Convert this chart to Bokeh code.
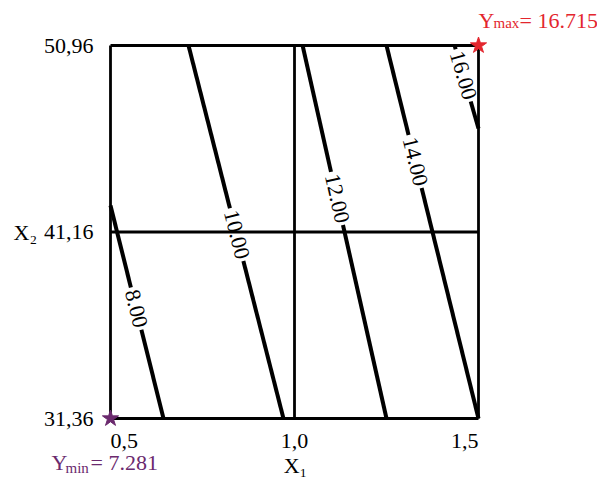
import math
from bokeh.plotting import figure
from bokeh.models import ColumnDataSource
from bokeh.core.properties import value
from bokeh.embed import file_html
from bokeh.resources import INLINE

# ---------------- data ----------------
x_ticks = [0.5, 1.0, 1.5]
x_tick_labels = ["0,5", "1,0", "1,5"]
y_ticks = [31.36, 41.16, 50.96]
y_tick_labels = ["31,36", "41,16", "50,96"]
x_axis_label = "X\u2081"
y_axis_label = "X\u2082"

level_labels = ["8.00", "10.00", "12.00", "14.00", "16.00"]
c_x0 = [0.500, 0.712, 1.022, 1.250, 1.435]
c_y0 = [42.55, 50.96, 50.96, 50.96, 50.96]
c_x1 = [0.644, 0.970, 1.250, 1.500, 1.500]
c_y1 = [31.36, 31.36, 31.36, 31.36, 46.60]
label_frac = [0.484, 0.507, 0.410, 0.311, 0.360]

max_x, max_y, max_val = [1.5], [50.96], "16.715"
min_x, min_y, min_val = [0.5], [31.36], "7.281"

# ---------------- layout ----------------
W, H = 597, 479
BOX_L, BOX_R, BOX_T, BOX_B = 110, 478, 45, 418
FONT = "Liberation Serif"
FS = 22
SUB = 15
RED, PURPLE = "#e3262e", "#6b2a6e"

xmin, xmax = min(x_ticks), max(x_ticks)
ymin, ymax = min(y_ticks), max(y_ticks)
xmid, ymid = x_ticks[1], y_ticks[1]
sx = (BOX_R - BOX_L) / (xmax - xmin)   # px per x unit
sy = (BOX_B - BOX_T) / (ymax - ymin)   # px per y unit

p = figure(width=W, height=H, output_backend="svg", toolbar_location=None,
           x_range=(xmin - BOX_L / sx, xmax + (W - BOX_R) / sx),
           y_range=(ymin - (H - BOX_B) / sy, ymax + BOX_T / sy),
           x_axis_location=None, y_axis_location=None,
           min_border_left=0, min_border_right=0,
           min_border_top=0, min_border_bottom=0,
           background_fill_color="white", border_fill_color="white")
p.outline_line_color = None
p.xgrid.visible = False
p.ygrid.visible = False

# free texts: anchor in data units, shifted by a pixel offset (dx right, dy up),
# vertically centred on the shifted point
notes = dict(x=[], y=[], text=[], color=[], size=[], align=[])
def note(x, y, dx, dy, text, color="black", size=FS, align="left"):
    notes["x"].append(x + dx / sx)
    notes["y"].append(y + dy / sy)
    notes["text"].append(text)
    notes["color"].append(color)
    notes["size"].append(f"{size}px")
    notes["align"].append(align)

# box and centre lines
gx0 = [xmin] * len(y_ticks) + x_ticks
gx1 = [xmax] * len(y_ticks) + x_ticks
gy0 = y_ticks + [ymin] * len(x_ticks)
gy1 = y_ticks + [ymax] * len(x_ticks)
p.segment(gx0, gy0, gx1, gy1, line_color="black", line_width=2.8)

# tick labels and axis names
for xt, lab, al in zip(x_ticks, x_tick_labels, ["left", "center", "right"]):
    note(xt, ymin, 0, -22, lab, align=al)
for yt, lab in zip(y_ticks, y_tick_labels):
    note(xmin, yt, -17, 0, lab, align="right")
note(xmid, ymin, 1, -47, x_axis_label, align="center")
note(xmin, ymid, -97, 0, y_axis_label)

# contour lines with gaps for labels
sx0, sy0, sx1, sy1 = [], [], [], []
tx, ty, ta = [], [], []
for lab, x0, y0, x1, y1, f in zip(level_labels, c_x0, c_y0, c_x1, c_y1, label_frac):
    dxp, dyp = (x1 - x0) * sx, (y1 - y0) * sy
    L = math.hypot(dxp, dyp)
    tw = sum(0.25 if ch == "." else 0.5 for ch in lab) * FS
    g = (tw + 5) / L
    for a, b in ((0.0, f - g / 2), (f + g / 2, 1.0)):
        sx0.append(x0 + (x1 - x0) * a); sy0.append(y0 + (y1 - y0) * a)
        sx1.append(x0 + (x1 - x0) * b); sy1.append(y0 + (y1 - y0) * b)
    tx.append(x0 + (x1 - x0) * f)
    ty.append(y0 + (y1 - y0) * f)
    ta.append(math.atan2(dyp, dxp))
p.segment(sx0, sy0, sx1, sy1, line_color="black", line_width=4)
p.text(tx, ty, text=level_labels, angle=ta, text_align="center",
       text_baseline="middle", text_font=value(FONT),
       text_font_size=f"{FS}px", text_color="black")

# extreme points
p.scatter(max_x, max_y, marker="star", size=17, color=RED)
p.scatter(min_x, min_y, marker="star", size=17, color=PURPLE)

note(max_x[0], max_y[0], 0, 25, "Y", RED)
note(max_x[0], max_y[0], 15, 22.5, "max", RED, SUB)
note(max_x[0], max_y[0], 41, 25, "= " + max_val, RED)
note(min_x[0], min_y[0], -59, -43.5, "Y", PURPLE)
note(min_x[0], min_y[0], -45, -49, "min", PURPLE, SUB)
note(min_x[0], min_y[0], -20, -43.5, "= " + min_val, PURPLE)

p.text("x", "y", text="text", source=ColumnDataSource(notes),
       text_color="color", text_font_size="size", text_align="align",
       text_baseline="middle", text_font=value(FONT))

open("out.html", "w").write(file_html(p, INLINE))
